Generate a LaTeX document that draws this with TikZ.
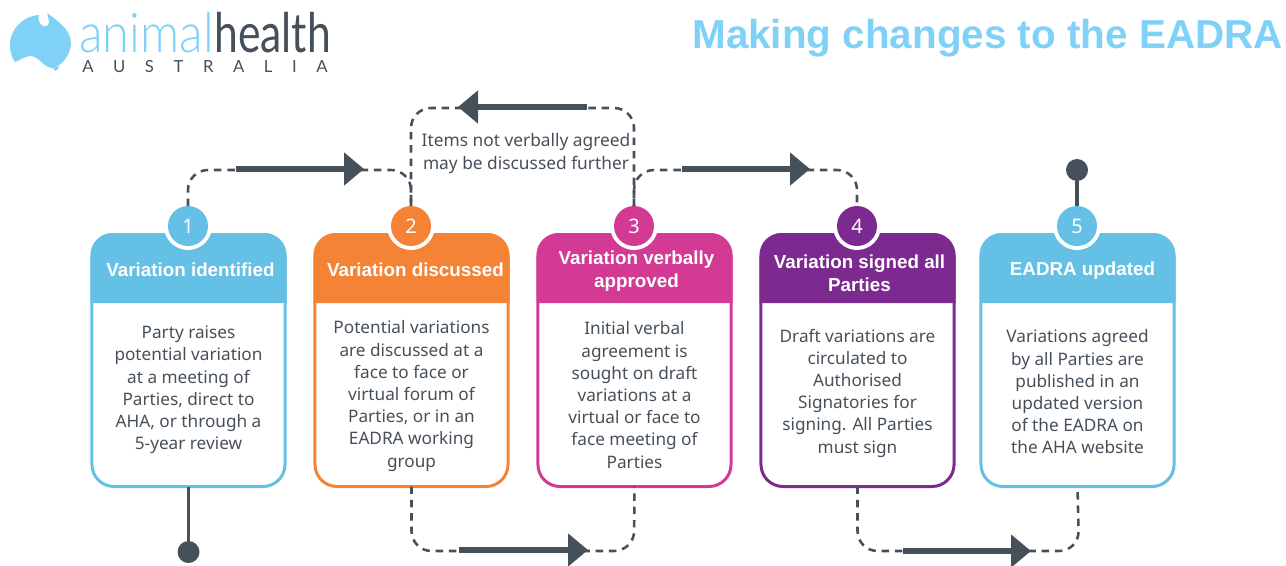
\documentclass[tikz,border=0pt]{standalone}
\usepackage{fontspec}
\setmainfont{Liberation Sans}
\newfontfamily\bodyfont{Noto Sans}
\newfontfamily\logofont[UprightFont=* Light, FakeStretch=0.89]{Lato}
\newfontfamily\logodark[FakeStretch=0.78]{Lato}
\newfontfamily\logoplain{Lato}
\usetikzlibrary{arrows.meta,positioning}
\definecolor{slate}{HTML}{46505A}
\definecolor{skyblue}{HTML}{64C0E5}
\definecolor{titleblue}{HTML}{7FD1F7}
\definecolor{carrot}{HTML}{F58335}
\definecolor{magenta2}{HTML}{D23A94}
\definecolor{plum}{HTML}{7D2A90}
% #1 x centre, #2 colour, #3 number, #4 y of title, #5 title, #6 y of the text, #7 text
\newcommand{\varcard}[7]{
  \node[card, draw=#2] (card#3) at (#1,360.5) {};
  \fill[#2] (#1-98,303) [rounded corners=16.5pt] -- (#1-98,233) -- (#1+98,233) [sharp corners] -- (#1+98,303) -- cycle;
  \node[head] (head#3) at (#1+2,#4) {#5};
  \node[bodytext] (text#3) at (#1,#6) {#7};
  \fill[white] (#1-0.5,226) circle (18pt);
  \node[num, fill=#2] (num#3) at (#1-0.5,226) {#3};
}
\begin{document}
\begin{tikzpicture}[x=0.75pt,y=-0.75pt]
\tikzstyle{card}=[rectangle, line width=2.25pt, rounded corners=16.5pt, minimum width=144.8pt, minimum height=189pt, outer sep=0pt]
\tikzstyle{head}=[align=center, text=white, font=\fontsize{14.1}{17}\selectfont\bfseries, inner sep=0pt]
\tikzstyle{bodytext}=[align=center, text=slate, font=\bodyfont\fontsize{12.9}{16.65}\selectfont, inner sep=0pt]
\tikzstyle{num}=[circle, minimum size=30pt, inner sep=0pt, outer sep=0pt, text=white, font=\bodyfont\fontsize{15}{15}\selectfont]
\tikzstyle{dashline}=[draw=slate, line width=1.9pt, dash pattern=on 5.6pt off 4.4pt, rounded corners=15pt]
\tikzstyle{bigarrow}=[draw=slate, line width=5.2pt, -{Triangle[length=15pt,width=24pt]}]
\tikzstyle{stem}=[draw=slate, line width=2.4pt]
\tikzstyle{dot}=[circle, fill=slate, minimum size=16.5pt, inner sep=0pt]
\useasboundingbox (0,0) rectangle (1286,565);
  % logo
  \fill[titleblue] (10,46) .. controls (9,31) and (22,16) .. (39,15) .. controls (37,22) and (42,28) .. (47,26)
    .. controls (50,25) and (49,19) .. (47,13) .. controls (57,20) and (71,30) .. (71,43) .. controls (71,54) and (62,66) .. (53,68)
    .. controls (44,68) and (40,58) .. (32,56) .. controls (24,56) and (19,61) .. (15,62) .. controls (12,58) and (10,52) .. (10,46) -- cycle;
  \fill[titleblue] (53,68) -- (60,66) -- (56,71) -- cycle;
  \node[anchor=base west, inner sep=0pt, text=titleblue, font=\logofont\fontsize{41}{41}\selectfont] (animal) at (79,52) {animal};
  \node[right=0pt of animal.base east, anchor=base west, inner sep=0pt, text=slate, font=\logodark\fontsize{41}{41}\selectfont] (health) {health};
  \node[anchor=base west, inner sep=0pt, text=slate, font=\logoplain\fontsize{12.5}{12.5}\selectfont] (aus) at (82,72)
    {\makebox[184pt][s]{A\hfill U\hfill S\hfill T\hfill R\hfill A\hfill L\hfill I\hfill A}};
  \node[anchor=east, inner sep=0pt, text=titleblue, font=\fontsize{30.3}{32}\selectfont\bfseries] (title) at (1283,38) {Making changes to the EADRA};
  % cards
  \varcard{188.5}{skyblue}{1}{270}{Variation identified}{390}{Party raises\\potential variation\\at a meeting of\\Parties, direct to\\AHA, or through a\\5-year review}
  \varcard{411.5}{carrot}{2}{270}{\hspace*{3pt}Variation discussed}{396}{Potential variations\\are discussed at a\\face to face or\\virtual forum of\\Parties, or in an\\EADRA working\\group}
  \varcard{634.5}{magenta2}{3}{271}{Variation verbally\\approved}{395}{Initial verbal\\agreement is\\sought on draft\\variations at a\\virtual or face to\\face meeting of\\Parties}
  \varcard{857.5}{plum}{4}{273}{Variation signed all\\Parties}{393}{Draft variations are\\circulated to\\Authorised\\Signatories for\\signing. All Parties\\must sign}
  \varcard{1077.5}{skyblue}{5}{271}{\hspace*{4.5pt}EADRA updated}{392}{Variations agreed\\by all Parties are\\published in an\\updated version\\of the EADRA on\\the AHA website}
  % connectors
  \coordinate (top12) at (411,170);
  \coordinate (topback) at (411,108);
  \coordinate (topback3) at (634,108);
  \coordinate (top34) at (857,170);
  \coordinate (bot23) at (634,551);
  \coordinate (bot45) at (1079,551);
  \coordinate (a1s) at (236,169); \coordinate (a1e) at (364,169);
  \coordinate (a2s) at (587,107); \coordinate (a2e) at (458,107);
  \coordinate (a3s) at (682,169); \coordinate (a3e) at (810,169);
  \coordinate (a4s) at (459,550); \coordinate (a4e) at (588,550);
  \coordinate (a5s) at (903,551); \coordinate (a5e) at (1031,551);
  \node[align=center, text=slate, inner sep=0pt, font=\bodyfont\fontsize{13}{17.25}\selectfont] (items) at (526,153) {Items not verbally agreed\\may be discussed further};
  \path[dashline] (num1.north) |- (top12) -- (num2.north);
  \path[dashline] (num2.north) -- (topback) -- (topback3) -- (num3.north);
  \path[dashline] (num3.north) |- (top34) -- (num4.north);
  \path[dashline] (card2.south) |- (bot23) -- (card3.south);
  \path[dashline] (card4.south) |- (bot45) -- (card5.south);
  \path[bigarrow] (a1s) -- (a1e);
  \path[bigarrow] (a2s) -- (a2e);
  \path[bigarrow] (a3s) -- (a3e);
  \path[bigarrow] (a4s) -- (a4e);
  \path[bigarrow] (a5s) -- (a5e);
  \node[dot] (start) at (188.5,552) {};
  \node[dot] (finish) at (1077,170) {};
  \path[stem] (card1.south) -- (start);
  \path[stem] (finish) -- (num5.north);
\end{tikzpicture}
\end{document}
